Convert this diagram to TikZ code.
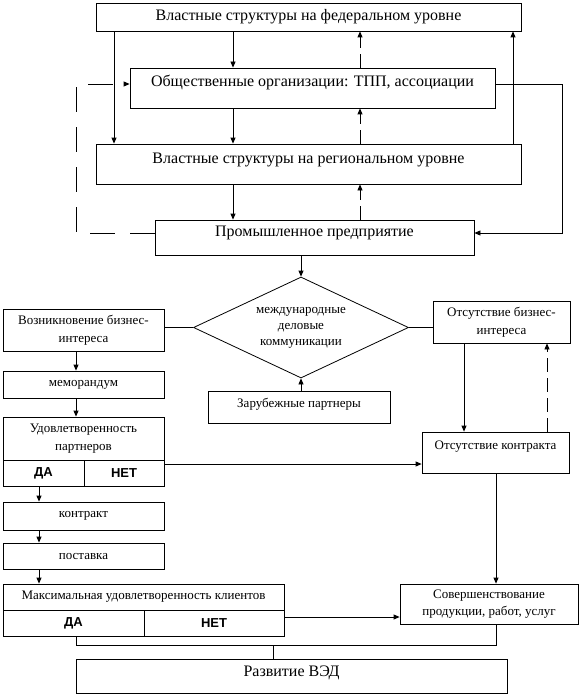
\documentclass[tikz,border=0pt]{standalone}
\usepackage{fontspec}
\setmainfont{Liberation Serif}
\newfontfamily\yesnofont{Liberation Sans}
\usetikzlibrary{shapes.geometric,arrows.meta}

\tikzstyle{every path}+=[thick]
\tikzstyle{box}=[draw,rectangle,inner sep=0pt,align=center,font=\fontsize{16}{19}\selectfont]
\tikzstyle{sbox}=[box,font=\fontsize{13}{17.5}\selectfont]
\tikzstyle{cell}=[box,font=\yesnofont\bfseries\fontsize{13}{15}\selectfont]
\tikzstyle{edge1}=[dash pattern=on 14pt off 6pt]
\tikzstyle{edge2}=[dash pattern=on 25pt off 15pt]

\begin{document}
\begin{tikzpicture}[x=1pt,y=-1pt,>={Triangle[length=6pt,width=5pt]}]
\useasboundingbox (0,0) rectangle (581,698);

% upper block
\node[box,minimum width=425pt,minimum height=28pt] (fed) at (308.5,17) {Властные структуры на федеральном уровне};
\node[box,minimum width=365pt,minimum height=40pt,text depth=13.5pt] (org) at (312.5,88) {Общественные организации: ТПП, ассоциации};
\node[box,minimum width=425pt,minimum height=40pt,text depth=11.5pt] (reg) at (308.5,164) {Властные структуры на региональном уровне};
\node[box,minimum width=319pt,minimum height=35pt,text depth=12.5pt] (prom) at (314.5,237.5) {Промышленное предприятие};

\coordinate (x1) at (114,0);
\coordinate (x2) at (233,0);
\coordinate (x3) at (360,0);
\coordinate (x4) at (513,0);
\coordinate (r1) at (562,84);
\coordinate (r2) at (562,233);
\coordinate (l1) at (76,233);
\coordinate (l2) at (76,84);

\draw[->] (fed.south -| x2) -- (org.north -| x2);
\draw[->] (fed.south -| x1) -- (reg.north -| x1);
\draw[->] (org.south -| x2) -- (reg.north -| x2);
\draw[->] (reg.south -| x2) -- (prom.north -| x2);
\draw[->,edge1] (org.north -| x3) -- (fed.south -| x3);
\draw[->,edge1] (reg.north -| x3) -- (org.south -| x3);
\draw[->,edge1] (prom.north -| x3) -- (reg.south -| x3);
\draw[->] (reg.north -| x4) -- (fed.south -| x4);
\draw[->] (org.east |- r1) -- (r1) -- (r2) -- (prom.east |- r2);
\draw[->,edge2] (prom.west |- l1) -- (l1) -- (l2) -- (org.west |- l2);

% middle block
\node[diamond,draw,aspect=2.1,minimum width=215pt,minimum height=101pt,inner sep=0pt,align=center,font=\fontsize{13}{16}\selectfont] (comm) at (301,327.5) {международные\\деловые\\коммуникации};
\node[sbox,minimum width=161pt,minimum height=42pt] (bizyes) at (83.5,330) {Возникновение бизнес-\\интереса};
\node[sbox,minimum width=137pt,minimum height=42pt] (bizno) at (501.5,322) {Отсутствие бизнес-\\интереса};
\node[sbox,minimum width=182pt,minimum height=32pt,text depth=9pt] (partn) at (299,407) {Зарубежные партнеры};

\draw[->] (prom.south -| comm.north) -- (comm.north);
\draw (bizyes.east |- comm.west) -- (comm.west);
\draw (comm.east) -- (bizno.west |- comm.east);
\draw[->] (partn.north -| comm.south) -- (comm.south);

% left column
\node[sbox,minimum width=161pt,minimum height=27pt] (memo) at (83.5,384.5) {меморандум};
\node[sbox,minimum width=161pt,minimum height=43pt] (sat1) at (83.5,438.5) {Удовлетворенность\\партнеров};
\node[cell,minimum width=81pt,minimum height=26pt] (yes1) at (43.5,473) {ДА};
\node[cell,minimum width=80pt,minimum height=26pt] (no1) at (124,473) {НЕТ};
\node[sbox,minimum width=161pt,minimum height=28pt] (contr) at (83.5,516) {контракт};
\node[sbox,minimum width=161pt,minimum height=26pt] (supply) at (83.5,556) {поставка};
\node[sbox,minimum width=281pt,minimum height=26pt] (sat2) at (143.5,597) {Максимальная удовлетворенность клиентов};
\node[cell,minimum width=141pt,minimum height=26pt] (yes2) at (73.5,623) {ДА};
\node[cell,minimum width=140pt,minimum height=26pt] (no2) at (214,623) {НЕТ};

% right column and bottom
\node[sbox,minimum width=147pt,minimum height=41pt,text depth=15pt] (nocontr) at (495.5,452.5) {Отсутствие контракта};
\node[sbox,minimum width=178pt,minimum height=40pt] (improve) at (489,604) {Совершенствование\\продукции, работ, услуг};
\node[box,minimum width=431pt,minimum height=34pt,text depth=9.5pt] (ved) at (291.5,676) {Развитие ВЭД};

\coordinate (x5) at (76,0);
\coordinate (x6) at (39,0);
\coordinate (x7) at (464,0);
\coordinate (x8) at (547,0);
\coordinate (y1) at (0,464);
\coordinate (y2) at (0,617);
\coordinate (b1) at (76,645);
\coordinate (b2) at (496,645);
\coordinate (b3) at (273,645);

\draw[->] (bizyes.south -| x5) -- (memo.north -| x5);
\draw[->] (memo.south -| x5) -- (sat1.north -| x5);
\draw[->] (yes1.south -| x6) -- (contr.north -| x6);
\draw[->] (contr.south -| x6) -- (supply.north -| x6);
\draw[->] (supply.south -| x6) -- (sat2.north -| x6);
\draw[->] (no1.east |- y1) -- (nocontr.west |- y1);
\draw[->] (bizno.south -| x7) -- (nocontr.north -| x7);
\draw[->,edge1] (nocontr.north -| x8) -- (bizno.south -| x8);
\draw[->] (nocontr.south -| b2) -- (improve.north -| b2);
\draw[->] (no2.east |- y2) -- (improve.west |- y2);
\draw (yes2.south -| b1) -- (b1) -- (b2) -- (improve.south -| b2);
\draw (b3) -- (ved.north -| b3);
\end{tikzpicture}
\end{document}
